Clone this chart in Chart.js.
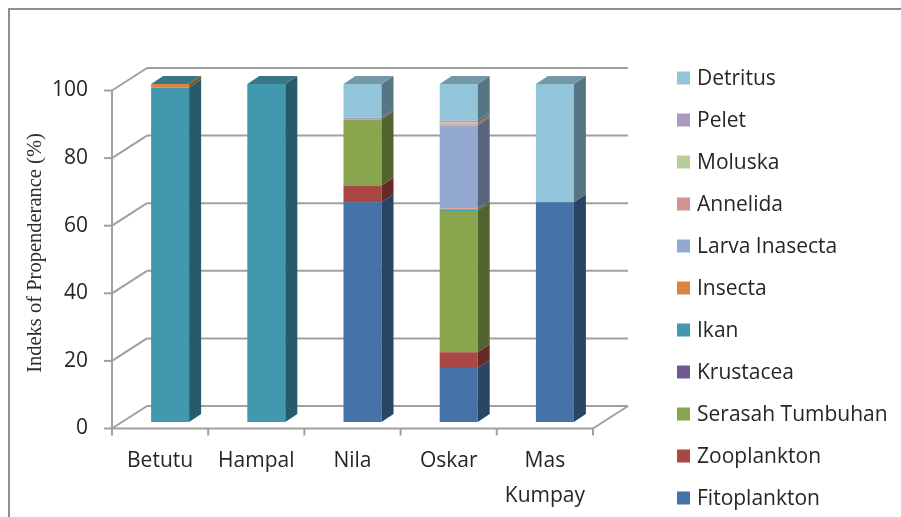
<!DOCTYPE html>
<html>
<head>
<meta charset="utf-8">
<title>Indeks of Propenderance</title>
<script src="https://cdn.jsdelivr.net/npm/chart.js@4.4.1/dist/chart.umd.min.js"></script>
<style>
  html, body { margin: 0; padding: 0; background: #ffffff; }
  #wrap { width: 901px; height: 517px; position: relative; }
</style>
</head>
<body>
<div id="wrap"><canvas id="chart" width="901" height="517"></canvas></div>
<script>
// ---- data ----
const categories = ['Betutu', 'Hampal', 'Nila', 'Oskar', ['Mas', 'Kumpay']];
const fitoplankton    = [0,   0,   65,   16,   65];
const zooplankton     = [0,   0,   5,    4.6,  0];
const serasahTumbuhan = [0,   0,   19.5, 41.8, 0];
const krustacea       = [0,   0,   0,    0,    0];
const ikan            = [99,  100, 0,    0.4,  0];
const insecta         = [1,   0,   0,    0.4,  0];
const larvaInasecta   = [0,   0,   0,    24.5, 0];
const annelida        = [0,   0,   0,    0.4,  0];
const moluska         = [0,   0,   0,    0.5,  0];
const pelet           = [0,   0,   0.5,  0.6,  0];
const detritus        = [0,   0,   10,   10.8, 35];
const yTicks = [0, 20, 40, 60, 80, 100];

// ---- look ----
const TEXT = '#262626';
const GRID = '#a0a0a0';
const FONT = '"Open Sans", Lato, sans-serif';
const FONT_SIZE = 21;
// 3D offsets relative to the plane the bar fronts sit in
const FRONT = { x: -10, y: 6.5 };   // front edge of floor / value axis
const BACK  = { x: 25,  y: -16 };   // back wall
const DEPTH = { x: 12,  y: -8 };    // bar depth
const LID_PROBE = 1.5;              // lid takes the colour found this far below the top

function rgb(hex) {
  const n = parseInt(hex.slice(1), 16);
  return [(n >> 16) & 255, (n >> 8) & 255, n & 255];
}
function shade(hex, k, add) {
  const c = rgb(hex).map(v => Math.round(Math.min(255, v * k + (add || 0))));
  return `rgb(${c[0]},${c[1]},${c[2]})`;
}
function poly(ctx, pts) {
  ctx.beginPath();
  ctx.moveTo(pts[0][0], pts[0][1]);
  for (let i = 1; i < pts.length; i++) ctx.lineTo(pts[i][0], pts[i][1]);
  ctx.closePath();
  ctx.fill();
}
function seg(ctx, x1, y1, x2, y2) {
  ctx.beginPath();
  ctx.moveTo(x1, y1);
  ctx.lineTo(x2, y2);
  ctx.stroke();
}

// outer frame line (left and top)
const framePlugin = {
  id: 'frame',
  beforeDraw(chart) {
    const ctx = chart.ctx;
    ctx.save();
    ctx.strokeStyle = '#8f8f8f';
    ctx.lineWidth = 2;
    ctx.beginPath();
    ctx.moveTo(9, 517);
    ctx.lineTo(9, 9);
    ctx.lineTo(901, 9);
    ctx.stroke();
    ctx.restore();
  }
};

// walls, floor and axis lines of the 3D box
const wallsPlugin = {
  id: 'walls',
  beforeDatasetsDraw(chart) {
    const { ctx, scales: { x, y } } = chart;
    const L = x.left, R = x.right;
    const n = chart.data.labels.length;
    ctx.save();
    ctx.strokeStyle = GRID;
    ctx.lineWidth = 2;
    yTicks.forEach(v => {
      const p = y.getPixelForValue(v);
      seg(ctx, L + BACK.x, p + BACK.y, R + BACK.x, p + BACK.y);
      seg(ctx, L + FRONT.x, p + FRONT.y, L + BACK.x, p + BACK.y);
      seg(ctx, L + FRONT.x - 8, p + FRONT.y, L + FRONT.x, p + FRONT.y);
    });
    const y0 = y.getPixelForValue(0), yMax = y.getPixelForValue(yTicks[yTicks.length - 1]);
    seg(ctx, L + FRONT.x, y0 + FRONT.y, L + FRONT.x, yMax + FRONT.y);
    seg(ctx, L + FRONT.x, y0 + FRONT.y, R + FRONT.x, y0 + FRONT.y);
    seg(ctx, R + FRONT.x, y0 + FRONT.y, R + BACK.x, y0 + BACK.y);
    for (let i = 0; i <= n; i++) {
      const px = x.getPixelForValue(i - 0.5) + FRONT.x;
      seg(ctx, px, y0 + FRONT.y, px, y0 + FRONT.y + 7);
    }
    ctx.restore();
  }
};

// side faces of each bar segment, and a lid on top of each stack
const bars3dPlugin = {
  id: 'bars3d',
  afterDatasetsDraw(chart) {
    const ctx = chart.ctx;
    const sets = chart.data.datasets;
    const n = chart.data.labels.length;
    const topIndex = [], lidIndex = [];
    for (let i = 0; i < n; i++) {
      let t = -1, total = 0;
      sets.forEach((ds, d) => { if (ds.data[i] > 0) { t = d; total += ds.data[i]; } });
      let acc = 0, lid = t;
      for (let d = 0; d < sets.length; d++) {
        acc += sets[d].data[i] || 0;
        if (acc >= total - LID_PROBE) { lid = d; break; }
      }
      topIndex.push(t);
      lidIndex.push(lid);
    }
    ctx.save();
    sets.forEach((ds, d) => {
      const meta = chart.getDatasetMeta(d);
      meta.data.forEach((bar, i) => {
        if (!(ds.data[i] > 0)) return;
        const { x: cx, y: top, base, width } = bar.getProps(['x', 'y', 'base', 'width'], true);
        const l = cx - width / 2, r = cx + width / 2;
        ctx.fillStyle = shade(ds.backgroundColor, 0.6);
        poly(ctx, [[r, top], [r + DEPTH.x, top + DEPTH.y], [r + DEPTH.x, base + DEPTH.y], [r, base]]);
        if (topIndex[i] === d) {
          ctx.fillStyle = shade(sets[lidIndex[i]].backgroundColor, 0.72, 10);
          poly(ctx, [[l, top], [l + DEPTH.x, top + DEPTH.y], [r + DEPTH.x, top + DEPTH.y], [r, top]]);
        }
      });
    });
    ctx.restore();
  }
};

// legend column on the right, top entry = last stacked series
const legendPlugin = {
  id: 'sideLegend',
  afterDraw(chart) {
    const ctx = chart.ctx;
    const items = chart.data.datasets.map(ds => ({ text: ds.label, color: ds.backgroundColor })).reverse();
    ctx.save();
    ctx.font = `${FONT_SIZE}px ${FONT}`;
    ctx.textBaseline = 'middle';
    ctx.textAlign = 'left';
    items.forEach((it, k) => {
      const cy = 78 + k * 42;
      ctx.fillStyle = it.color;
      ctx.fillRect(677, cy - 6.5, 13, 13);
      ctx.fillStyle = TEXT;
      ctx.fillText(it.text, 697, cy + 1);
    });
    ctx.restore();
  }
};

const series = [
  ['Fitoplankton', fitoplankton, '#4572A7'],
  ['Zooplankton', zooplankton, '#AA4643'],
  ['Serasah Tumbuhan', serasahTumbuhan, '#89A54E'],
  ['Krustacea', krustacea, '#71588F'],
  ['Ikan', ikan, '#4198AF'],
  ['Insecta', insecta, '#DB843D'],
  ['Larva Inasecta', larvaInasecta, '#93A9CF'],
  ['Annelida', annelida, '#D19392'],
  ['Moluska', moluska, '#B9CD96'],
  ['Pelet', pelet, '#A99BBD'],
  ['Detritus', detritus, '#92C5D9']
];

new Chart(document.getElementById('chart'), {
  type: 'bar',
  data: {
    labels: categories,
    datasets: series.map(([label, data, color]) => ({
      label, data,
      backgroundColor: color,
      borderWidth: 0,
      barPercentage: 0.395,
      categoryPercentage: 1
    }))
  },
  options: {
    responsive: false,
    animation: false,
    events: [],
    layout: { padding: { top: 84, right: 298, bottom: 0, left: 0 } },
    plugins: { legend: { display: false }, tooltip: { enabled: false } },
    scales: {
      x: {
        stacked: true,
        grid: { display: false, drawTicks: false },
        border: { display: false },
        ticks: {
          color: TEXT,
          font: { family: FONT, size: FONT_SIZE, lineHeight: 35 / FONT_SIZE },
          padding: 22,
          labelOffset: FRONT.x,
          maxRotation: 0,
          autoSkip: false
        },
        afterFit(scale) { scale.height = 95; }
      },
      y: {
        stacked: true,
        min: 0,
        max: 100,
        grid: { display: false, drawTicks: false },
        border: { display: false },
        ticks: {
          stepSize: 20,
          color: TEXT,
          font: { family: FONT, size: FONT_SIZE },
          padding: 34,
          labelOffset: FRONT.y
        },
        afterBuildTicks(scale) { scale.ticks = yTicks.map(v => ({ value: v })); },
        title: {
          display: true,
          text: 'Indeks of Propenderance (%)',
          color: '#2e2e2e',
          font: { family: '"Liberation Serif", "DejaVu Serif", serif', size: 20.5 },
          padding: { top: 23, bottom: 0 }
        },
        afterFit(scale) { scale.width = 122; }
      }
    }
  },
  plugins: [framePlugin, wallsPlugin, bars3dPlugin, legendPlugin]
});
</script>
</body>
</html>
